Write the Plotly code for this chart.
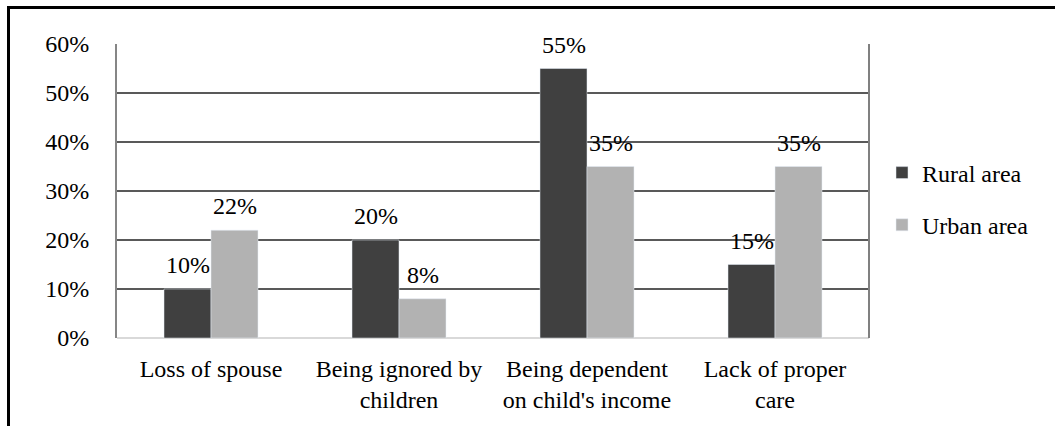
import plotly.graph_objects as go

categories = ["Loss of spouse", "Being ignored by<br>children", "Being dependent<br>on child's income", "Lack of proper<br>care"]
rural = [10, 20, 55, 15]
urban = [22, 8, 35, 35]
yticks = [0, 10, 20, 30, 40, 50, 60]

FONT = "Liberation Serif, Tinos, Times New Roman, serif"
FS = 24
W, H = 1055, 426
L, R, T, B = 117, 186, 44, 88
pw, ph = W - L - R, H - T - B
RURAL_C, URBAN_C = "#404040", "#b2b2b2"

def px_x(p):
    return (p - L) / pw

def px_y(p):
    return (H - B - p) / ph

fig = go.Figure()
fig.add_trace(go.Bar(name="Rural area", x=categories, y=rural, marker_color=RURAL_C,
                     legendgroup="a"))
fig.add_trace(go.Bar(name="Urban area", x=categories, y=urban, marker_color=URBAN_C,
                     legendgroup="b"))

# value labels above bars
half_bar_px = pw / len(categories) / 8
annotations = []
for series, shift in ((rural, -half_bar_px), (urban, half_bar_px)):
    for c, v in zip(categories, series):
        annotations.append(dict(x=c, y=v, xref="x", yref="y", text=f"{v}%", showarrow=False,
                                xshift=shift, yanchor="bottom", yshift=9,
                                font=dict(family=FONT, size=FS, color="black")))

shapes = [
    dict(type="line", xref="paper", yref="paper", x0=1, x1=1, y0=0, y1=1,
         line=dict(color="#808080", width=2)),
    dict(type="line", xref="paper", yref="paper", x0=px_x(8.5), x1=px_x(8.5), y0=px_y(6), y1=px_y(440),
         line=dict(color="black", width=3)),
    dict(type="line", xref="paper", yref="paper", x0=px_x(7), x1=px_x(1070), y0=px_y(7.5), y1=px_y(7.5),
         line=dict(color="black", width=3)),
]

fig.update_layout(
    width=W, height=H,
    margin=dict(l=L, r=R, t=T, b=B, autoexpand=False),
    paper_bgcolor="white", plot_bgcolor="white",
    barmode="group", bargap=0.5, bargroupgap=0,
    font=dict(family=FONT, size=FS, color="black"),
    showlegend=True,
    legend=dict(x=px_x(882), y=px_y(150.5), xanchor="left", yanchor="top",
                font=dict(family=FONT, size=FS), tracegroupgap=18,
                bgcolor="rgba(0,0,0,0)"),
    shapes=shapes,
    annotations=annotations,
)
fig.update_yaxes(range=[0, 60], tickvals=yticks, ticktext=[f"{v}%" for v in yticks],
                 showgrid=True, gridcolor="#595959", gridwidth=2,
                 zeroline=True, zerolinecolor="#d9d9d9", zerolinewidth=2,
                 showline=True, linecolor="#868686", linewidth=2, automargin=False,
                 ticklabelstandoff=21, tickfont=dict(family=FONT, size=FS))
fig.update_xaxes(showgrid=False, showline=False, ticks="", tickangle=0, automargin=False,
                 ticklabelstandoff=14, tickfont=dict(family=FONT, size=FS))

fig.write_html("out.html")
